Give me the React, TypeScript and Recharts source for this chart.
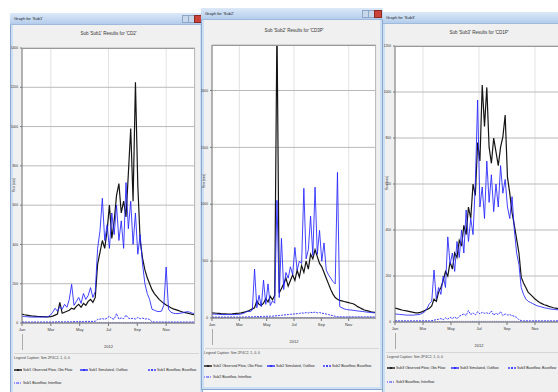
import { LineChart, Line, XAxis, YAxis, CartesianGrid } from "recharts";

// day of year, sampled every 5 days
const DAYS = [
  0, 5, 10, 15, 20, 25, 30, 35, 40, 45,
  50, 55, 60, 65, 70, 75, 80, 85, 90, 95,
  100, 105, 110, 115, 120, 125, 130, 135, 140, 145,
  150, 155, 160, 165, 170, 175, 180, 185, 190, 195,
  200, 205, 210, 215, 220, 225, 230, 235, 240, 245,
  250, 255, 260, 265, 270, 275, 280, 285, 290, 295,
  300, 305, 310, 315, 320, 325, 330, 335, 340, 345,
  350, 355, 360, 365,
];

const MONTH_TICKS = [0, 61, 122, 183, 244, 305];
const MONTH_LABELS = ["Jan", "Mar", "May", "Jul", "Sep", "Nov"];

// ---- panel 1: Sub1
const P1_OBS = [
  45, 42, 40, 38, 36, 35, 34, 33, 32, 32,
  31, 31, 32, 35, 40, 45, 105, 50, 55, 60,
  65, 75, 70, 85, 95, 80, 100, 90, 110, 120,
  105, 130, 300, 360, 420, 380, 470, 600, 430, 520,
  650, 710, 560, 620, 540, 760, 990, 620, 1225, 700,
  420, 330, 270, 230, 200, 170, 150, 135, 120, 110,
  100, 92, 85, 78, 72, 68, 64, 60, 56, 53,
  50, 47, 44, 42,
];
const P1_SIM = [
  35, 33, 32, 31, 30, 30, 30, 30, 30, 31,
  31, 32, 40, 55, 75, 60, 85, 70, 95, 80,
  120, 197, 90, 110, 130, 100, 150, 120, 140, 180,
  130, 160, 380, 470, 635, 420, 500, 380, 560, 450,
  600, 420, 520, 380, 715, 480, 620, 400, 560, 350,
  450, 300, 200, 150, 120, 70, 65, 60, 58, 60,
  90, 285, 70, 55, 50, 48, 48, 50, 52, 55,
  58, 55, 50, 48,
];
const P1_LOW = [
  5, 5, 5, 5, 5, 5, 5, 5, 5, 5,
  5, 5, 5, 5, 5, 6, 6, 6, 6, 6,
  6, 6, 7, 7, 7, 7, 7, 8, 8, 8,
  8, 9, 18, 20, 22, 19, 25, 35, 22, 20,
  48, 20, 26, 22, 40, 25, 22, 24, 20, 28,
  22, 25, 20, 22, 18, 6, 5, 5, 5, 5,
  5, 5, 5, 5, 5, 5, 5, 5, 5, 5,
  5, 5, 5, 5,
];
const P1_BASE = [
  2, 2, 2, 2, 2, 2, 2, 2, 2, 2,
  2, 2, 2, 2, 2, 2, 2, 2, 2, 2,
  2, 2, 2, 3, 3, 3, 3, 3, 3, 3,
  3, 3, 3, 3, 3, 3, 3, 3, 3, 3,
  3, 3, 3, 3, 3, 3, 3, 3, 3, 3,
  3, 3, 3, 3, 3, 2, 2, 2, 2, 2,
  2, 2, 2, 2, 2, 2, 2, 2, 2, 2,
  2, 2, 2, 2,
];

// ---- panel 2: Sub2
const P2_OBS = [
  45, 44, 42, 40, 38, 37, 36, 35, 35, 36,
  38, 40, 42, 45, 50, 55, 60, 70, 80, 90,
  150, 120, 110, 130, 170, 140, 190, 160, 200, 2600,
  220, 260, 300, 350, 280, 330, 380, 330, 420, 360,
  460, 400, 500, 430, 560, 520, 600, 540, 480, 450,
  400, 350, 300, 250, 210, 180, 165, 155, 150, 145,
  140, 135, 130, 125, 115, 100, 90, 80, 70, 65,
  60, 55, 52, 50,
];
const P2_SIM = [
  35, 34, 33, 32, 31, 30, 30, 30, 30, 30,
  30, 31, 32, 35, 40, 50, 60, 55, 70, 430,
  90, 200, 100, 333, 120, 300, 110, 150, 130, 1035,
  180, 700, 250, 400, 350, 450, 380, 620, 420, 500,
  480, 1140, 520, 600, 895, 550, 1150, 560, 770, 500,
  660, 420, 380, 350, 320, 300, 1280, 100, 90, 80,
  75, 72, 70, 68, 65, 62, 60, 58, 55, 52,
  50, 48, 46, 45,
];
const P2_LOW = [
  8, 8, 8, 8, 8, 8, 8, 8, 8, 8,
  8, 8, 8, 8, 9, 9, 10, 10, 10, 12,
  12, 12, 14, 14, 15, 15, 16, 16, 18, 20,
  22, 24, 26, 28, 30, 32, 34, 36, 38, 40,
  45, 42, 48, 44, 50, 46, 52, 45, 48, 42,
  40, 35, 30, 25, 20, 15, 12, 10, 10, 10,
  10, 10, 10, 10, 10, 10, 10, 10, 10, 10,
  10, 10, 10, 10,
];
const P2_BASE = [
  3, 3, 3, 3, 3, 3, 3, 3, 3, 3,
  3, 3, 3, 3, 3, 3, 3, 3, 3, 3,
  3, 3, 3, 3, 4, 4, 4, 4, 4, 4,
  4, 4, 4, 4, 4, 4, 4, 4, 4, 4,
  4, 4, 4, 4, 4, 4, 4, 4, 4, 4,
  4, 4, 4, 4, 3, 3, 3, 3, 3, 3,
  3, 3, 3, 3, 3, 3, 3, 3, 3, 3,
  3, 3, 3, 3,
];

// ---- panel 3: Sub3
const P3_OBS = [
  60, 58, 55, 52, 50, 48, 46, 44, 42, 40,
  40, 42, 45, 50, 55, 60, 70, 100, 90, 130,
  150, 180, 220, 200, 260, 230, 300, 280, 355, 330,
  420, 380, 500, 450, 600, 550, 780, 700, 1030, 850,
  1020, 760, 690, 800, 740, 680, 760, 805, 900, 630,
  560, 475, 420, 360, 300, 195, 170, 150, 130, 120,
  110, 100, 92, 85, 80, 75, 72, 68, 65, 62,
  60, 58, 57, 56,
];
const P3_SIM = [
  35, 34, 33, 32, 31, 30, 30, 30, 30, 31,
  32, 34, 38, 45, 60, 80, 90, 226, 100, 150,
  120, 200, 150, 370, 250, 300, 220, 350, 280, 400,
  300, 487, 350, 450, 380, 600, 965, 500, 587, 450,
  700, 520, 640, 480, 600, 500, 680, 560, 620, 500,
  450, 545, 400, 300, 250, 150, 120, 100, 90, 85,
  80, 75, 70, 68, 65, 62, 60, 58, 56, 55,
  54, 53, 52, 51,
];
const P3_LOW = [
  5, 5, 5, 5, 5, 5, 5, 5, 5, 5,
  5, 5, 5, 5, 5, 5, 6, 8, 10, 12,
  15, 10, 18, 12, 20, 15, 22, 14, 25, 30,
  35, 28, 50, 32, 40, 30, 45, 35, 42, 38,
  40, 35, 48, 30, 38, 32, 45, 28, 35, 30,
  32, 28, 25, 20, 10, 6, 5, 5, 5, 5,
  5, 5, 5, 5, 5, 5, 5, 5, 5, 5,
  5, 5, 5, 5,
];
const P3_BASE = [
  2, 2, 2, 2, 2, 2, 2, 2, 2, 2,
  2, 2, 2, 2, 2, 2, 2, 2, 2, 2,
  2, 2, 2, 2, 2, 3, 3, 3, 3, 3,
  3, 3, 3, 3, 3, 3, 3, 3, 3, 3,
  3, 3, 3, 3, 3, 3, 3, 3, 3, 3,
  3, 3, 3, 3, 2, 2, 2, 2, 2, 2,
  2, 2, 2, 2, 2, 2, 2, 2, 2, 2,
  2, 2, 2, 2,
];

const P1_YTICKS = [0, 200, 400, 600, 800, 1000, 1200, 1400];
const P2_YTICKS = [0, 500, 1000, 1500, 2000];
const P3_YTICKS = [0, 200, 400, 600, 800, 1000, 1200];

const buildTable = (obs: number[], sim: number[], low: number[], base: number[]) =>
  DAYS.map((day, i) => ({ day, obs: obs[i], sim: sim[i], low: low[i], base: base[i] }));

const FONT = "'Liberation Sans', Arial, sans-serif";
const YW = 12;
const MT = 4;
const MR = 2;
const XH = 28;

type Box = { x: number; y: number; w: number; h: number };
type Rect = { x0: number; y0: number; x1: number; y1: number };

function LegendItem({ x, y, color, dash, label }: any) {
  return (
    <div style={{ position: "absolute", left: x, top: y - 3, display: "flex", alignItems: "center", whiteSpace: "nowrap" }}>
      <svg width={8} height={6} style={{ marginRight: 1 }}>
        <line x1={0} y1={3} x2={8} y2={3} stroke={color} strokeWidth={1.4} strokeDasharray={dash} />
        <circle cx={4} cy={3} r={1} fill={color} />
      </svg>
      <span style={{ fontSize: 3.5, color: "#222", lineHeight: "6px" }}>{label}</span>
    </div>
  );
}

function Panel({
  win, plot, sub, title, caption, data, yMax, yTicks, legend, z,
}: {
  win: Box; plot: Rect; sub: string; title: string; caption: string;
  data: any[]; yMax: number; yTicks: number[];
  legend: { cap: [number, number]; items: [number, number][] }; z: number;
}) {
  const pw = plot.x1 - plot.x0;
  const ph = plot.y1 - plot.y0;
  const cl = plot.x0 - win.x - YW;
  const ct = plot.y0 - win.y - MT;
  const names = [
    `${sub} Observed Flow, Obs Flow`,
    `${sub} Simulated, Outflow`,
    `${sub} Baseflow, Baseflow`,
    `${sub} Baseflow, Interflow`,
  ];
  const colors = ["#151515", "#2222ff", "#3a3aff", "#7a7aff"];
  const dashes = [undefined, undefined, "2 1", "1 1"];
  return (
    <div
      style={{
        position: "absolute", left: win.x, top: win.y, width: win.w, height: win.h,
        background: "#f0f0f0", zIndex: z, overflow: "hidden", fontFamily: FONT,
        boxShadow: "inset 0 0 0 1px #8aa8cf, inset 0 0 0 3px #cddff3",
      }}
    >
      {/* title bar */}
      <div
        style={{
          position: "absolute", left: 0, top: 0, width: win.w, height: 11,
          background: "linear-gradient(#dce9f8, #b4cdec)", borderBottom: "1px solid #9fb9dc",
        }}
      >
        <span style={{ position: "absolute", left: 4, top: 3, fontSize: 4, color: "#222" }}>
          Graph for '{sub}'
        </span>
        <div style={{ position: "absolute", right: 14, top: 2, width: 5, height: 6, background: "#c9d7ea", border: "1px solid #8ea6c7" }} />
        <div style={{ position: "absolute", right: 8, top: 2, width: 5, height: 6, background: "#c9d7ea", border: "1px solid #8ea6c7" }} />
        <div style={{ position: "absolute", right: 1, top: 2, width: 6, height: 6, background: "#c9433a", border: "1px solid #8c2a22" }} />
      </div>
      <div
        style={{
          position: "absolute", left: plot.x0 - win.x + pw / 2 - 60, top: 18 + (win.y < 12 ? 2 : 0), width: 120,
          textAlign: "center", fontSize: 4.5, color: "#333", whiteSpace: "nowrap",
        }}
      >
        {title}
      </div>
      {/* vertical axis title */}
      <div
        style={{
          position: "absolute", left: plot.x0 - win.x - 28, top: plot.y0 - win.y + ph / 2 - 3, width: 40,
          transform: "rotate(-90deg)", textAlign: "center", fontSize: 3, color: "#444", whiteSpace: "nowrap",
        }}
      >
        Flow (cms)
      </div>
      <div style={{ position: "absolute", left: cl, top: ct }}>
        <LineChart
          width={pw + YW + MR}
          height={ph + MT + XH}
          data={data}
          margin={{ top: MT, right: MR, left: 0, bottom: 0 }}
        >
          <CartesianGrid fill="#ffffff" stroke="#e3e3e3" horizontal={false} />
          <CartesianGrid stroke="#b9b9b9" strokeWidth={1} vertical={false} />
          <XAxis
            dataKey="day"
            type="number"
            domain={[0, 366]}
            ticks={MONTH_TICKS}
            tickFormatter={(v: number) => MONTH_LABELS[MONTH_TICKS.indexOf(v)]}
            tick={{ fontSize: 4, fill: "#333" }}
            tickSize={3}
            height={XH}
            stroke="#777"
            label={{ value: "2012", position: "insideBottom", offset: 3, fontSize: 4, fill: "#333" }}
          />
          <YAxis
            type="number"
            domain={[0, yMax]}
            ticks={yTicks}
            allowDataOverflow
            width={YW}
            tick={{ fontSize: 3.3, fill: "#333" }}
            tickSize={2}
            stroke="#777"
          />
          <Line type="linear" dataKey="base" stroke={colors[3]} strokeWidth={1} strokeDasharray="1 1.2" dot={false} isAnimationActive={false} />
          <Line type="linear" dataKey="low" stroke={colors[2]} strokeWidth={1} strokeDasharray="2 1" dot={false} isAnimationActive={false} />
          <Line type="linear" dataKey="obs" stroke={colors[0]} strokeWidth={1.2} dot={false} isAnimationActive={false} />
          <Line type="linear" dataKey="sim" stroke={colors[1]} strokeWidth={1} strokeOpacity={0.85} dot={false} isAnimationActive={false} />
        </LineChart>
      </div>
      {/* plot frame */}
      <div
        style={{
          position: "absolute", left: plot.x0 - win.x, top: plot.y0 - win.y, width: pw, height: ph,
          borderTop: "1px solid #999", borderRight: "1px solid #bbb", boxSizing: "border-box", pointerEvents: "none",
        }}
      />
      {/* year separator */}
      <div
        style={{
          position: "absolute", left: plot.x0 - win.x, top: plot.y1 - win.y + 11, width: 1, height: 16, background: "#aaa",
        }}
      />
      {/* legend */}
      <div style={{ position: "absolute", left: 4, top: legend.cap[1] - win.y - 6, width: win.w - 8, height: 1, background: "#d6d6d6" }} />
      <div
        style={{
          position: "absolute", left: legend.cap[0] - win.x, top: legend.cap[1] - win.y - 3,
          fontSize: 3.5, color: "#444", whiteSpace: "nowrap",
        }}
      >
        {caption}
      </div>
      {legend.items.map(([lx, ly], i) => (
        <LegendItem key={i} x={lx - win.x} y={ly - win.y} color={colors[i]} dash={dashes[i]} label={names[i]} />
      ))}
    </div>
  );
}

export default function App() {
  return (
    <div
      style={{
        position: "absolute", left: 0, top: 0, width: 558, height: 392,
        background: "#ffffff", overflow: "hidden",
      }}
    >
      <Panel
        z={1}
        sub="Sub1"
        title="Sub 'Sub1' Results for 'CD2'"
        caption="Legend Caption: Sim 2P4C2, 1, 0, 0"
        win={{ x: 10, y: 13, w: 193, h: 392 }}
        plot={{ x0: 22, y0: 48, x1: 195, y1: 323 }}
        data={buildTable(P1_OBS, P1_SIM, P1_LOW, P1_BASE)}
        yMax={1400}
        yTicks={P1_YTICKS}
        legend={{ cap: [14, 359], items: [[14, 370], [80, 370], [148, 370], [14, 383]] }}
      />
      <Panel
        z={1}
        sub="Sub3"
        title="Sub 'Sub3' Results for 'CD1P'"
        caption="Legend Caption: Sim 2P4C2, 1, 0, 0"
        win={{ x: 382, y: 12, w: 202, h: 392 }}
        plot={{ x0: 395, y0: 46, x1: 563, y1: 322 }}
        data={buildTable(P3_OBS, P3_SIM, P3_LOW, P3_BASE)}
        yMax={1200}
        yTicks={P3_YTICKS}
        legend={{ cap: [387, 358], items: [[387, 368], [451, 368], [508, 368], [387, 382]] }}
      />
      <Panel
        z={2}
        sub="Sub2"
        title="Sub 'Sub2' Results for 'CD3P'"
        caption="Legend Caption: Sim 2P4C2, 1, 0, 0"
        win={{ x: 201, y: 8, w: 182, h: 382 }}
        plot={{ x0: 212, y0: 45, x1: 376, y1: 318 }}
        data={buildTable(P2_OBS, P2_SIM, P2_LOW, P2_BASE)}
        yMax={2400}
        yTicks={P2_YTICKS}
        legend={{ cap: [204, 354], items: [[204, 366], [267, 366], [323, 366], [204, 377]] }}
      />
    </div>
  );
}
